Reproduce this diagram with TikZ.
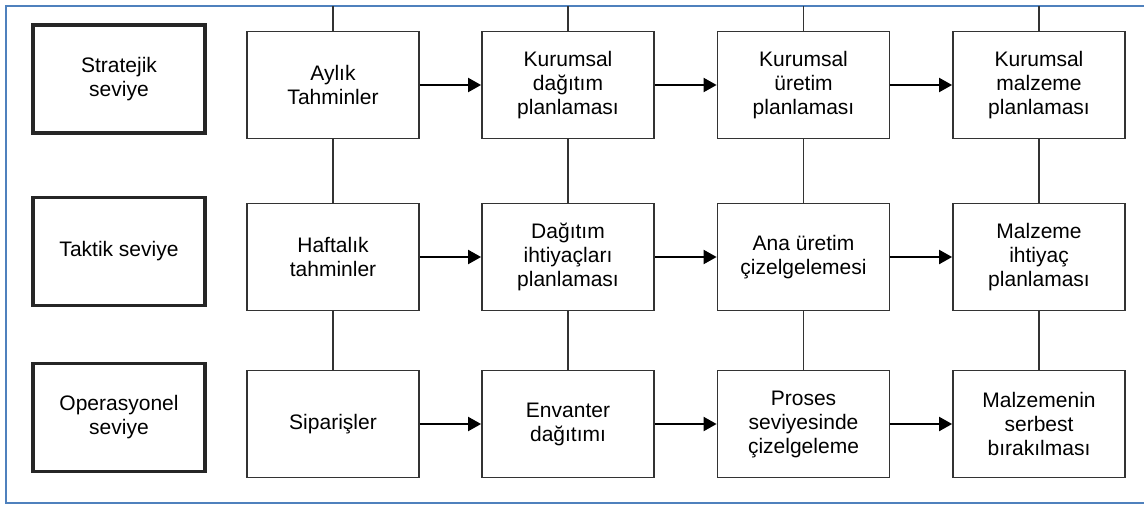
\documentclass[tikz,border=0pt]{standalone}
\usepackage{fontspec}
\setmainfont{Liberation Sans}
\usetikzlibrary{arrows.meta}

\begin{document}
\begin{tikzpicture}[x=0.5pt,y=-0.5pt,
  level/.style={draw=black!85,line width=1.8pt,minimum width=86pt,minimum height=54pt,inner sep=0pt,align=center,font=\fontsize{10.5}{12}\selectfont},
  block/.style={draw=black!80,line width=0.9pt,minimum width=86pt,minimum height=53.5pt,inner sep=0pt,align=center,font=\fontsize{10.5}{12}\selectfont},
  flow/.style={-{Triangle[length=6.5pt,width=7pt]},line width=1pt,black},
  link/.style={line width=0.9pt,black!80},
  frame/.style={line width=0.8pt,color={rgb,255:red,79;green,129;blue,189}}]
\useasboundingbox (0,0) rectangle (1144,504);
\draw[frame] (1150,6) -- (6,6) -- (6,503) -- (1150,503);

% seviyeler
\node[level] (lv1) at (119,79) {Stratejik\\seviye};
\node[level] (lv2) at (119,251.5) {Taktik seviye};
\node[level] (lv3) at (119,417.5) {Operasyonel\\seviye};

% stratejik
\node[block] (s1) at (333,85) {Aylık\\Tahminler};
\node[block] (s2) at (568,85) {Kurumsal\\dağıtım\\planlaması};
\node[block] (s3) at (803.5,85) {Kurumsal\\üretim\\planlaması};
\node[block] (s4) at (1039,85) {Kurumsal\\malzeme\\planlaması};

% taktik
\node[block] (t1) at (333,257) {Haftalık\\tahminler};
\node[block] (t2) at (568,257) {Dağıtım\\ihtiyaçları\\planlaması};
\node[block] (t3) at (803.5,257) {Ana üretim\\çizelgelemesi};
\node[block] (t4) at (1039,257) {Malzeme\\ihtiyaç\\planlaması};

% operasyonel
\node[block] (o1) at (333,424) {Siparişler};
\node[block] (o2) at (568,424) {Envanter\\dağıtımı};
\node[block] (o3) at (803.5,424) {Proses\\seviyesinde\\çizelgeleme};
\node[block] (o4) at (1039,424) {Malzemenin\\serbest\\bırakılması};

\coordinate (top1) at (333,6);
\coordinate (top2) at (568,6);
\coordinate (top3) at (803.5,6);
\coordinate (top4) at (1039,6);

\foreach \i in {1,2,3,4}{
  \draw[link] (top\i) -- (s\i.north);
  \draw[link] (s\i) -- (t\i);
  \draw[link] (t\i) -- (o\i);
}
\foreach \r in {s,t,o}{
  \draw[flow] (\r1) -- (\r2);
  \draw[flow] (\r2) -- (\r3);
  \draw[flow] (\r3) -- (\r4);
}
\end{tikzpicture}
\end{document}
